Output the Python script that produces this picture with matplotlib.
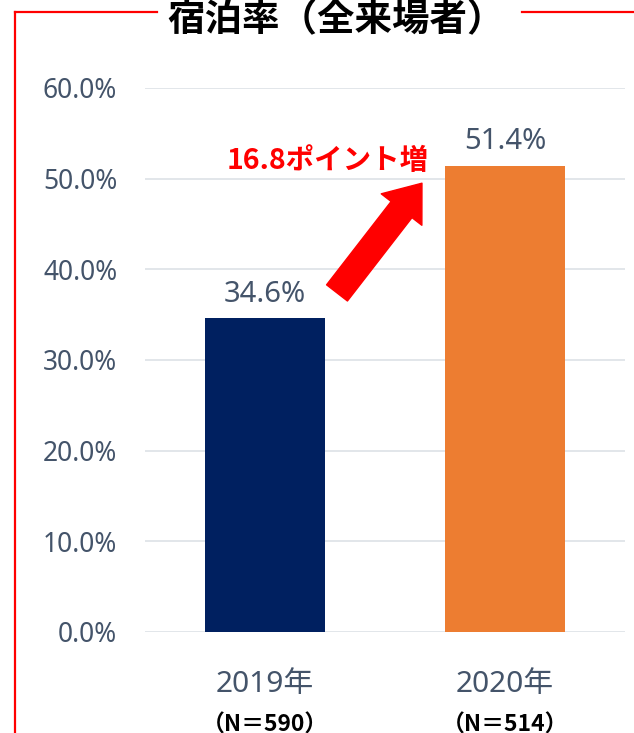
import matplotlib
matplotlib.use("Agg")
import matplotlib.pyplot as plt
from matplotlib.lines import Line2D
from matplotlib.patches import FancyArrowPatch
from matplotlib.transforms import blended_transform_factory

plt.rcParams['font.family'] = ['Noto Sans', 'Noto Sans CJK JP', 'DejaVu Sans']

# データ
years = ["2019年", "2020年"]
sample_sizes = ["（N＝590）", "（N＝514）"]
stay_rate = [34.6, 51.4]
yticks = [0, 10, 20, 30, 40, 50, 60]
title = "宿泊率（全来場者）"
note = "16.8ポイント増"

bar_colors = ["#002060", "#ED7D31"]
text_gray = "#44546A"
grid_gray = "#DDE1E6"
red = "#FF0000"

fig = plt.figure(figsize=(6.34, 7.33), dpi=100)
ax = fig.add_axes([145 / 634, 101 / 733, 480 / 634, 544 / 733])

x = range(len(years))
bars = ax.bar(x, stay_rate, width=0.5, color=bar_colors, zorder=3)

ax.set_xlim(-0.5, 1.5)
ax.set_ylim(0, 60)
ax.set_yticks(yticks)
ax.set_yticklabels([f"{v:.1f}%" for v in yticks], color=text_gray, fontsize=19)
ax.tick_params(axis='y', length=0, pad=20)
ax.yaxis.grid(True, color=grid_gray, linewidth=1.2, zorder=0)
for s in ax.spines.values():
    s.set_visible(False)

# x軸ラベル
ax.set_xticks(list(x))
ax.set_xticklabels(years, color=text_gray, fontsize=21.5)
ax.tick_params(axis='x', length=0, pad=27)

trans = blended_transform_factory(ax.transData, ax.transAxes)
for i, n in enumerate(sample_sizes):
    ax.text(i, -0.172, n, transform=trans, ha='center', va='center',
            fontsize=16.5, fontweight='bold', color='black',
            family=['Noto Sans CJK JP'], clip_on=False)

# データラベル
for i, v in enumerate(stay_rate):
    ax.annotate(f"{v:.1f}%", (i, v), xytext=(0, 7), textcoords='offset points',
                ha='center', va='bottom', fontsize=21, color=text_gray)

# 増加の矢印と注記
arrow = FancyArrowPatch((0.30, 37.4), (0.654, 49.5),
                        arrowstyle="simple,head_length=24,head_width=37,tail_width=19",
                        mutation_scale=1, shrinkA=0, shrinkB=0,
                        color=red, zorder=4)
ax.add_patch(arrow)
ax.text(0.26, 51.9, note, ha='center', va='center', fontsize=20.5,
        fontweight='bold', color=red, family=['Noto Sans CJK JP'])

# 赤い枠線とタイトル
lw = 1.6
fig.add_artist(Line2D([15 / 634, 15 / 634], [0, 1 - 12 / 733], color=red, lw=lw))
fig.add_artist(Line2D([15 / 634, 157 / 634], [1 - 12 / 733] * 2, color=red, lw=lw))
fig.add_artist(Line2D([522 / 634, 1], [1 - 12 / 733] * 2, color=red, lw=lw))
fig.text(336 / 634, 1 - 31 / 733, title, ha='center', va='baseline', fontsize=27,
         fontweight='bold', color='black', family=['Noto Sans CJK JP'])

fig.savefig("out.png", dpi=100)
